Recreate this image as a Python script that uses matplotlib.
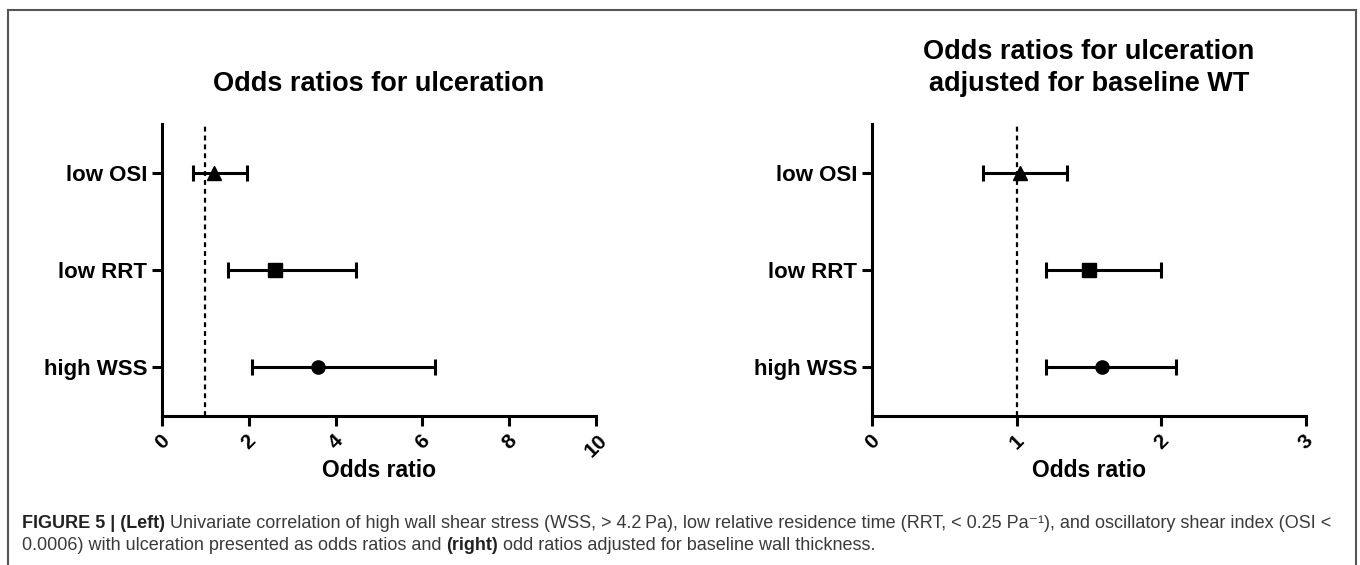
import matplotlib
matplotlib.use('Agg')
import matplotlib.pyplot as plt
from matplotlib.lines import Line2D

# Data
factors = ['high WSS', 'low RRT', 'low OSI']
markers = ['o', 's', '^']

or_left = [3.6, 2.6, 1.2]
lo_left = [2.08, 1.53, 0.72]
hi_left = [6.3, 4.46, 1.95]

or_right = [1.59, 1.5, 1.02]
lo_right = [1.2, 1.2, 0.77]
hi_right = [2.1, 2.0, 1.35]

ticks_left = [0, 2, 4, 6, 8, 10]
ticks_right = [0, 1, 2, 3]

FONT = ['Liberation Sans', 'DejaVu Sans']
CAP_FONT = ['Liberation Sans', 'DejaVu Sans']

W, H = 1360, 565
fig = plt.figure(figsize=(W / 100, H / 100), dpi=100)


def forest(ax, est, lo, hi, ticks, title):
    ypos = list(range(len(factors)))
    ax.axvline(1, color='black', ls=(0, (2.2, 1.8)), lw=1.6, zorder=1)
    for y, e, l, h, m in zip(ypos, est, lo, hi, markers):
        ax.errorbar(e, y, xerr=[[e - l], [h - e]], fmt=m, color='black',
                    ms=9.5, elinewidth=2.2, capsize=6, capthick=2.2, zorder=3)
    ax.set_xlim(ticks[0], ticks[-1])
    ax.set_ylim(-0.5, 2.5)
    ax.set_xticks(ticks)
    ax.set_xticklabels([str(t) for t in ticks], rotation=45, ha='center',
                       fontsize=15, fontweight='bold', family=FONT)
    ax.set_yticks(ypos)
    ax.set_yticklabels(factors, fontsize=16, fontweight='bold', family=FONT)
    for s in ['top', 'right']:
        ax.spines[s].set_visible(False)
    for s in ['left', 'bottom']:
        ax.spines[s].set_linewidth(2.2)
    ax.tick_params(width=2.2, length=7, direction='out')
    ax.tick_params(axis='x', pad=4)
    ax.set_xlabel('Odds ratio', fontsize=16.5, fontweight='bold', family=FONT)
    ax.xaxis.set_label_coords(0.5, -43 / 292, transform=ax.transAxes)
    ax.set_title(title, fontsize=19.5, fontweight='bold', family=FONT, pad=24,
                 linespacing=1.3)


ax1 = fig.add_axes([162 / W, 149 / H, 434 / W, 292 / H])
forest(ax1, or_left, lo_left, hi_left, ticks_left, 'Odds ratios for ulceration')

ax2 = fig.add_axes([872 / W, 149 / H, 434 / W, 292 / H])
forest(ax2, or_right, lo_right, hi_right, ticks_right,
       'Odds ratios for ulceration\nadjusted for baseline WT')

# frame around the figure
for xs, ys in [([8, 8], [0, 555]), ([8, 1356], [555, 555]), ([1356, 1356], [555, 0])]:
    fig.add_artist(Line2D([x / W for x in xs], [y / H for y in ys],
                          color='#555555', lw=1.5, transform=fig.transFigure))

# caption with mixed bold / regular pieces
renderer = fig.canvas.get_renderer()


def caption_line(pieces, x, y):
    for txt, bold in pieces:
        t = fig.text(x / W, y / H, txt, fontsize=13.0, family=CAP_FONT,
                     fontweight='bold' if bold else 'normal',
                     color='#222222' if bold else '#3a3a3a', va='baseline')
        bb = t.get_window_extent(renderer=renderer)
        x += bb.width


caption_line([('FIGURE 5 | (Left)', True),
              (' Univariate correlation of high wall shear stress (WSS, > 4.2\u2009Pa), '
               'low relative residence time (RRT, < 0.25 Pa\u207b\u00b9), '
               'and oscillatory shear index (OSI <', False)], 22, 565 - 528)
caption_line([('0.0006) with ulceration presented as odds ratios and ', False),
              ('(right)', True),
              (' odd ratios adjusted for baseline wall thickness.', False)], 22, 565 - 550)

fig.savefig('out.png', dpi=100)
